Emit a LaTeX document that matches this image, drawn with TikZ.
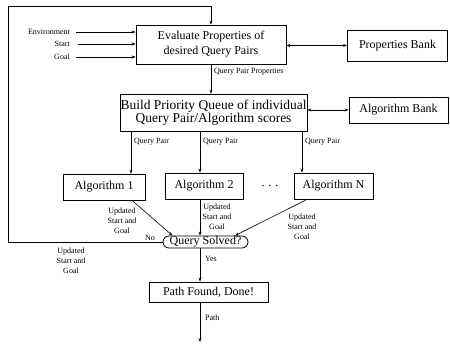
\documentclass[tikz,border=0pt]{standalone}
\usepackage{fontspec}
\setmainfont{Liberation Serif}
\usetikzlibrary{arrows.meta}
\begin{document}
\begin{tikzpicture}[x=1pt,y=-1pt,
  box/.style={draw, line width=0.8pt, inner sep=0pt, align=center,
    font=\fontsize{12}{15}\selectfont},
  lbl/.style={font=\fontsize{8}{10}\selectfont, align=center, inner sep=0pt},
  arr/.style={-{Stealth[length=4pt,width=3pt]}, line width=0.6pt},
  dblarr/.style={{Stealth[length=4pt,width=3pt]}-{Stealth[length=4pt,width=3pt]}, line width=0.6pt},
]
\useasboundingbox (0,0) rectangle (450,343);

% main boxes
\node[box, minimum width=150pt, minimum height=39pt] (eval) at (211,44.5)
  {Evaluate Properties of\\desired Query Pairs};
\node[box, minimum width=100pt, minimum height=31pt] (pbank) at (397.5,45.5) {Properties Bank};
\node[box, minimum width=187pt, minimum height=37pt, font=\fontsize{13.5}{13.5}\selectfont]
  (build) at (213.5,112.5)
  {Build Priority Queue of individual\\Query Pair/Algorithm scores};
\node[box, minimum width=99pt, minimum height=26pt] (abank) at (398.5,110) {Algorithm Bank};
\node[box, minimum width=82pt, minimum height=26pt] (alg1) at (104,187) {Algorithm 1};
\node[box, minimum width=78pt, minimum height=26pt] (alg2) at (204,186) {Algorithm 2};
\node[box, minimum width=79pt, minimum height=26pt] (algn) at (333.5,186) {Algorithm N};
\node[font=\fontsize{12}{15}\selectfont, inner sep=0pt] (dots) at (270,186) {.\,\,.\,\,.};
\node[box, rounded corners=6pt, minimum width=85pt, minimum height=12pt] (solved) at (205.5,242)
  {Query Solved?};
\node[box, minimum width=119pt, minimum height=20pt] (done) at (208.5,292) {Path Found, Done!};

% inputs
\node[lbl, anchor=east] (env) at (70,32) {Environment};
\node[lbl, anchor=east] (start) at (70,44) {Start};
\node[lbl, anchor=east] (goal) at (70,57) {Goal};
\draw[arr, shorten <=6pt] (env.east) -- (eval.west |- env.east);
\draw[arr, shorten <=8pt] (start.east) -- (eval.west |- start.east);
\draw[arr, shorten <=6pt] (goal.east) -- (eval.west |- goal.east);

% banks
\draw[dblarr] (eval.east |- pbank.west) -- (pbank.west);
\draw[dblarr] (build.east |- abank.west) -- (abank.west);

% evaluation to queue
\draw[arr] (eval.south) -- (eval.south |- build.north);
\node[lbl, anchor=west] (qpp) at (214,72) {Query Pair Properties};

% queue to algorithms
\coordinate (q1) at (131,131);
\coordinate (q2) at (200,131);
\coordinate (qn) at (302,131);
\draw[arr] (q1) -- (q1 |- alg1.north);
\draw[arr] (q2) -- (q2 |- alg2.north);
\draw[arr] (qn) -- (qn |- algn.north);
\node[lbl, anchor=west] (lq1) at (134,142) {Query Pair};
\node[lbl, anchor=west] (lq2) at (203,142) {Query Pair};
\node[lbl, anchor=west] (lqn) at (305,142) {Query Pair};

% algorithms to test
\draw[arr] ([xshift=28pt]alg1.south) -- ([xshift=-33pt]solved.north);
\draw[arr] ([xshift=-4pt]alg2.south) -- ([xshift=-5.5pt]solved.north);
\draw[arr] ([xshift=-26.5pt]algn.south) -- ([xshift=29.5pt]solved.north);
\node[lbl] (u1) at (122,221) {Updated\\Start and\\Goal};
\node[lbl] (u2) at (217,217) {Updated\\Start and\\Goal};
\node[lbl] (un) at (302,227) {Updated\\Start and\\Goal};

% feedback loop
\coordinate (corner) at (8,6);
\draw[arr] (solved.west) -| (corner) -| (eval.north);
\node[lbl] (no) at (150,238) {No};
\node[lbl] (uloop) at (71,261) {Updated\\Start and\\Goal};

% result
\draw[arr] ([xshift=-5.5pt]solved.south) -- ([xshift=-8.5pt]done.north);
\node[lbl, anchor=west] (yes) at (205,259) {Yes};
\coordinate (out) at (200,342);
\draw[arr] ([xshift=-8.5pt]done.south) -- (out);
\node[lbl, anchor=west] (path) at (205,318) {Path};
\end{tikzpicture}
\end{document}
